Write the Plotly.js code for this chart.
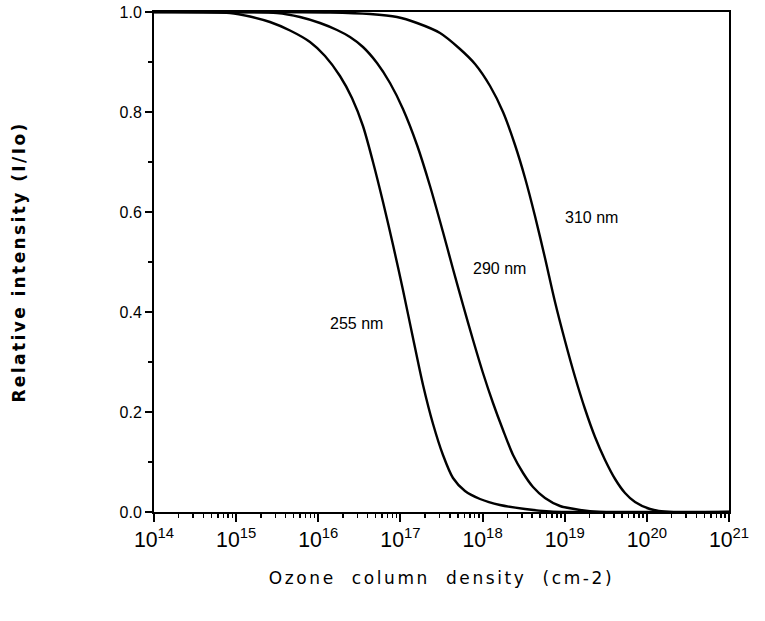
<!DOCTYPE html>
<html>
<head>
<meta charset="utf-8">
<script src="https://cdn.plot.ly/plotly-3.0.1.min.js"></script>
<style>
html,body{margin:0;padding:0;background:#fff;}
#chart{width:765px;height:621px;}
.xtitle{letter-spacing:2.6px;}
.ytitle{letter-spacing:2.4px;}
</style>
</head>
<body>
<div id="chart"></div>
<script>
// Ozone column density, given as log10(N / cm^-2), and relative intensity I/Io
const logN255 = [14.0, 14.925, 15.169, 15.412, 15.656, 15.899, 16.082, 16.264, 16.41, 16.544, 16.666, 16.788, 16.91, 17.031, 17.153, 17.275, 17.397, 17.518, 17.64, 17.786, 17.969, 18.212, 18.517, 18.821, 19.064, 21.0];
const int255  = [1.0, 0.998, 0.991, 0.98, 0.963, 0.94, 0.912, 0.872, 0.828, 0.772, 0.70, 0.62, 0.534, 0.444, 0.348, 0.254, 0.176, 0.114, 0.068, 0.042, 0.026, 0.014, 0.006, 0.001, 0.0, 0.0];

const logN290 = [14.0, 14.925, 15.497, 15.777, 16.021, 16.228, 16.386, 16.544, 16.715, 16.873, 17.031, 17.202, 17.36, 17.518, 17.64, 17.762, 17.884, 18.005, 18.127, 18.249, 18.371, 18.493, 18.614, 18.76, 18.943, 19.186, 19.43, 21.0];
const int290  = [1.0, 0.9995, 0.998, 0.99, 0.978, 0.964, 0.95, 0.93, 0.898, 0.858, 0.806, 0.734, 0.652, 0.56, 0.486, 0.414, 0.344, 0.278, 0.218, 0.164, 0.114, 0.078, 0.05, 0.028, 0.012, 0.004, 0.0, 0.0];

const logN310 = [14.0, 16.143, 16.63, 16.958, 17.202, 17.482, 17.725, 17.908, 18.091, 18.249, 18.395, 18.517, 18.638, 18.76, 18.882, 19.004, 19.126, 19.247, 19.369, 19.491, 19.613, 19.734, 19.856, 20.038, 20.282, 21.0];
const int310  = [1.0, 0.999, 0.996, 0.99, 0.978, 0.958, 0.926, 0.896, 0.852, 0.80, 0.734, 0.668, 0.592, 0.508, 0.42, 0.342, 0.27, 0.206, 0.15, 0.104, 0.066, 0.038, 0.02, 0.006, 0.0, 0.0];

const seriesNames = ['255 nm', '290 nm', '310 nm'];
const labelLogN = [16.46, 18.2, 19.33];
const labelInt  = [0.378, 0.488, 0.59];

const xTitle = 'Ozone\u00a0\u00a0column\u00a0\u00a0density\u00a0\u00a0(cm-2)';
const yTitle = 'Relative\u00a0intensity\u00a0(I/Io)';

const toN = a => a.map(v => Math.pow(10, v));
const xs = [logN255, logN290, logN310];
const ys = [int255, int290, int310];

const traces = xs.map((lx, i) => ({
  x: toN(lx), y: ys[i], type: 'scatter', mode: 'lines', name: seriesNames[i],
  line: {color: '#000', width: 2.4, shape: 'spline', smoothing: 0.8},
  hoverinfo: 'skip'
}));

const annotations = seriesNames.map((t, i) => ({
  x: labelLogN[i], y: labelInt[i], xref: 'x', yref: 'y', text: t, showarrow: false,
  font: {family: 'Liberation Sans, Arial, sans-serif', size: 16, color: '#000'}
}));

const layout = {
  width: 765, height: 621,
  margin: {l: 154, r: 36, t: 12, b: 109},
  paper_bgcolor: '#fff', plot_bgcolor: '#fff',
  showlegend: false,
  xaxis: {
    type: 'log', range: [14, 21], dtick: 1, exponentformat: 'power',
    showgrid: false, zeroline: false,
    showline: true, linecolor: '#000', linewidth: 2, mirror: true,
    ticks: 'outside', ticklen: 8, tickwidth: 2, tickcolor: '#000',
    minor: {ticks: 'outside', ticklen: 4, tickwidth: 1.5, tickcolor: '#000', dtick: 'D1', showgrid: false},
    tickfont: {family: 'Liberation Sans, Arial, sans-serif', size: 17, color: '#000'},
    title: {text: xTitle, standoff: 21, font: {family: 'DejaVu Sans, sans-serif', size: 17, color: '#000'}}
  },
  yaxis: {
    range: [0, 1], dtick: 0.2, tickformat: '.1f',
    showgrid: false, zeroline: false,
    showline: true, linecolor: '#000', linewidth: 2, mirror: true,
    ticks: 'outside', ticklen: 7, tickwidth: 2, tickcolor: '#000',
    minor: {ticks: 'outside', ticklen: 4, tickwidth: 1.5, tickcolor: '#000', dtick: 0.1, showgrid: false},
    tickfont: {family: 'Liberation Sans, Arial, sans-serif', size: 16, color: '#000'},
    title: {text: yTitle, standoff: 90, font: {family: 'DejaVu Sans, sans-serif', size: 17, color: '#000', weight: 'bold'}}
  },
  annotations: annotations
};

Plotly.newPlot('chart', traces, layout, {displayModeBar: false, staticPlot: true});
</script>
</body>
</html>
